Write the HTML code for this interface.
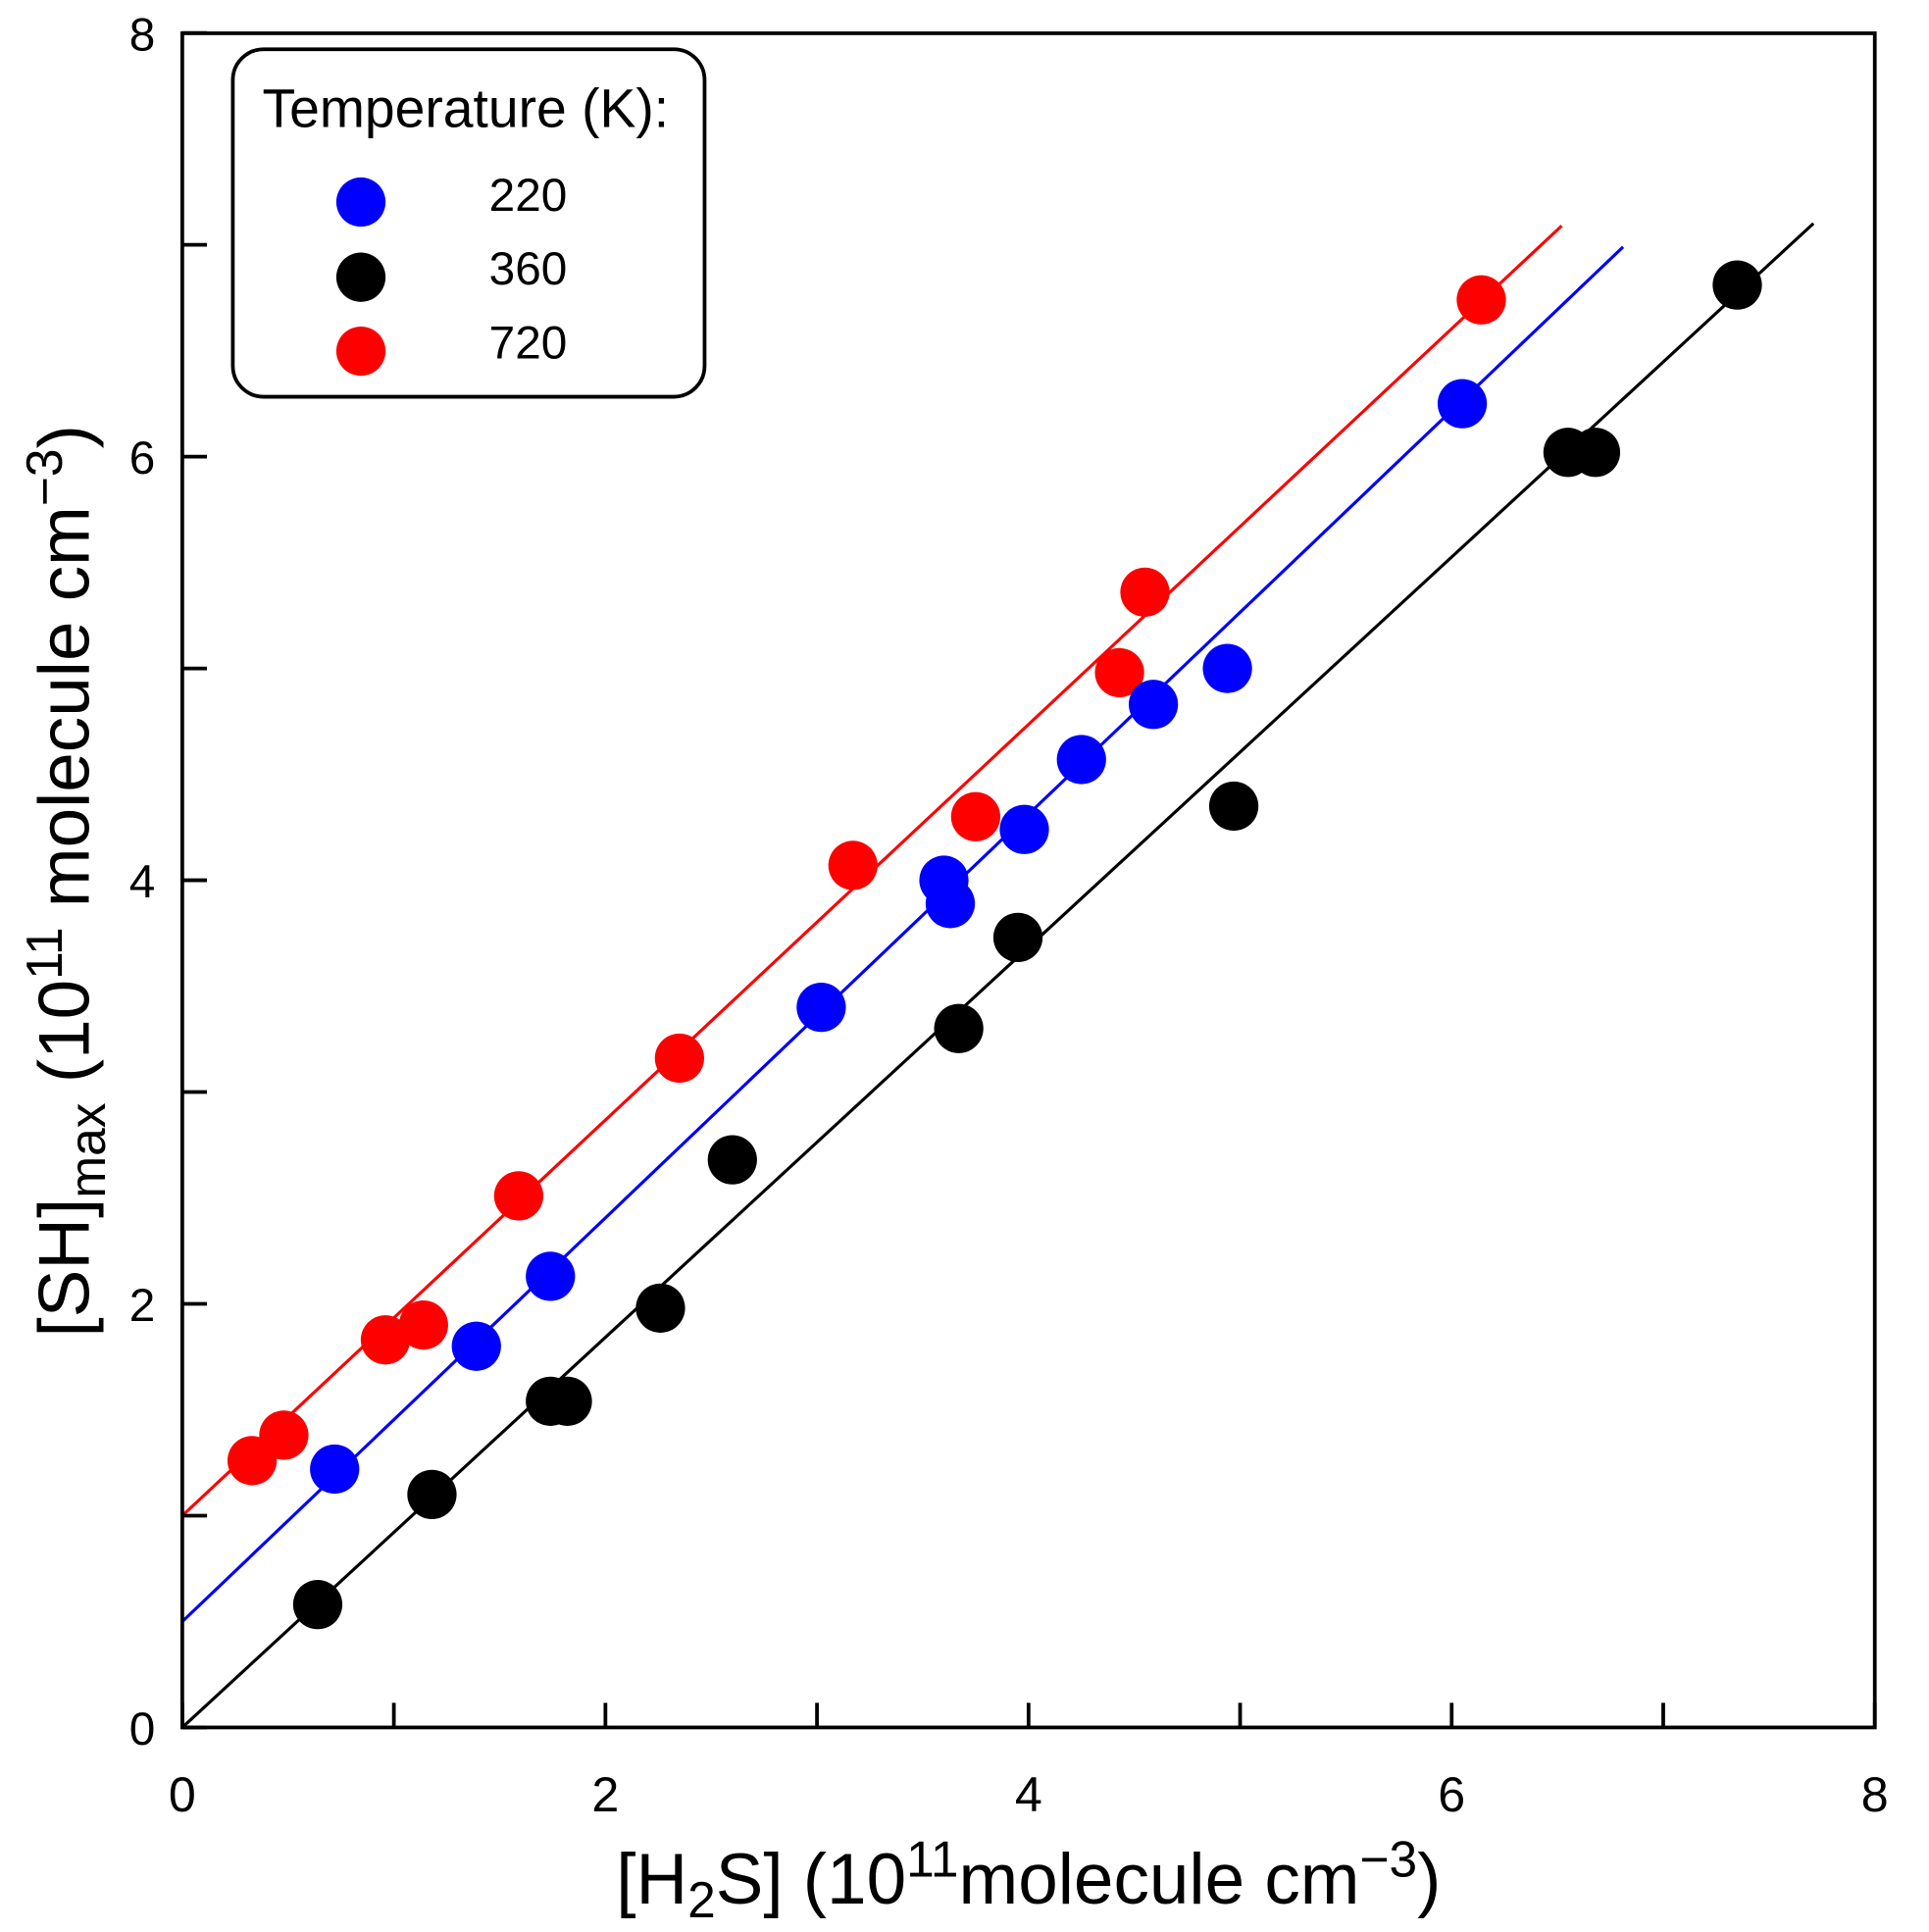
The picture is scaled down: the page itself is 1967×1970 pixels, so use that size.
<!DOCTYPE html>
<html><head><meta charset="utf-8"><style>
html,body{margin:0;padding:0;background:#fff;}
svg{display:block;font-family:"Liberation Sans",Arial,sans-serif;}
</style></head><body>
<svg id="chart" width="1967" height="1970" viewBox="0 0 1566 1568" preserveAspectRatio="none" xmlns="http://www.w3.org/2000/svg">
<rect x="0" y="0" width="1566" height="1568" fill="#fff"/>
<g id="lines"></g>
<g id="points"></g>
<g id="axes"></g>
<rect x="148" y="27" width="1374" height="1375" fill="none" stroke="#000" stroke-width="3"/>
<text x="835" y="1545" font-size="58" text-anchor="middle">[H<tspan font-size="41" dy="11">2</tspan><tspan dy="-11">S] (10</tspan><tspan font-size="41" dy="-22">11</tspan><tspan dy="22">molecule cm</tspan><tspan font-size="41" dy="-22">−3</tspan><tspan dy="22">)</tspan></text>
<text transform="translate(72,715) rotate(-90)" font-size="58" text-anchor="middle">[SH]<tspan font-size="41" dy="13">max</tspan><tspan dy="-13"> (10</tspan><tspan font-size="41" dy="-22">11</tspan><tspan dy="22"> molecule cm</tspan><tspan font-size="41" dy="-22">−3</tspan><tspan dy="22">)</tspan></text>
<g>
<rect x="189" y="40" width="383" height="282" rx="25" fill="#fff" stroke="#000" stroke-width="3"/>
<text x="213" y="103" font-size="44">Temperature (K):</text>
<circle cx="293" cy="164" r="20" fill="#0000ff"/>
<text x="397" y="171" font-size="38">220</text>
<circle cx="293" cy="225" r="20" fill="#000"/>
<text x="397" y="231" font-size="38">360</text>
<circle cx="293" cy="285" r="20" fill="#ff0000"/>
<text x="397" y="291" font-size="38">720</text>
</g>
</svg>
<script>
const redX=[0.33,0.48,0.96,1.14,1.59,2.35,3.17,3.75,4.43,4.55,6.14];
const redY=[1.26,1.38,1.83,1.90,2.51,3.16,4.07,4.30,4.98,5.36,6.74];
const blueX=[0.72,1.39,1.74,3.02,3.60,3.63,3.98,4.25,4.59,4.94,6.05];
const blueY=[1.22,1.80,2.13,3.40,4.00,3.89,4.24,4.57,4.83,5.00,6.25];
const blackX=[0.64,1.18,1.74,1.82,2.26,2.60,3.67,3.95,4.97,6.55,6.68,7.35];
const blackY=[0.58,1.10,1.54,1.54,1.98,2.68,3.30,3.73,4.35,6.02,6.02,6.81];
const fitIntercepts=[1.0,0.5,0.0];
const fitSlopes=[0.934,0.953,0.921];
const fitXEnd=[6.52,6.81,7.71];
const tickVals=[0,1,2,3,4,5,6,7,8];
const tickLabels=["0","","2","","4","","6","","8"];
const NS="http://www.w3.org/2000/svg";
const X=v=>148+v*171.75, Y=v=>1402-v*171.9;
function mk(tag,attrs,parent){const e=document.createElementNS(NS,tag);for(const k in attrs)e.setAttribute(k,attrs[k]);parent.appendChild(e);return e;}
const lines=document.getElementById('lines'),pts=document.getElementById('points'),axes=document.getElementById('axes');
const cols=['#ff0000','#0000ff','#000000'],names=['720','220','360'];
fitSlopes.forEach((s,i)=>{
  const l=mk('line',{x1:X(0),y1:Y(fitIntercepts[i]),x2:X(fitXEnd[i]),y2:Y(fitIntercepts[i]+s*fitXEnd[i]),stroke:cols[i],'stroke-width':2.5},lines);
  
  
});
[[redX,redY,'#ff0000','720'],[blueX,blueY,'#0000ff','220'],[blackX,blackY,'#000000','360']].forEach(([xs,ys,c,n])=>{
  xs.forEach((x,j)=>{
    const p=mk('circle',{cx:X(x),cy:Y(ys[j]),r:20,fill:c},pts);
    
    
  });
});
tickVals.forEach((v,i)=>{
  const tx=mk('line',{x1:X(v),y1:1402,x2:X(v),y2:1382,stroke:'#000','stroke-width':3},axes);
  
  
  const ty=mk('line',{x1:148,y1:Y(v),x2:168,y2:Y(v),stroke:'#000','stroke-width':3},axes);
  
  
  if(tickLabels[i]){
    const a=mk('text',{x:X(v),y:1470,'font-size':40,'text-anchor':'middle'},axes);a.textContent=tickLabels[i];
    
    
    const b=mk('text',{x:126,y:Y(v)+14,'font-size':38,'text-anchor':'end'},axes);b.textContent=tickLabels[i];
    
    
  }
});
</script>
</body></html>
